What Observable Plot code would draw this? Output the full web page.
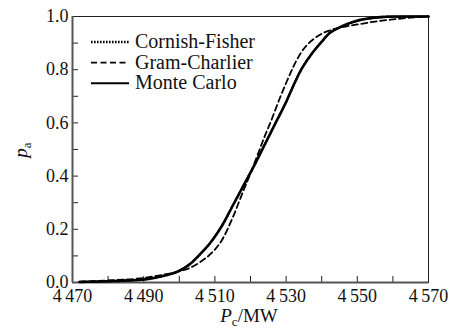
<!DOCTYPE html>
<html>
<head>
<meta charset="utf-8">
<script src="https://cdn.jsdelivr.net/npm/d3@7"></script>
<script src="https://cdn.jsdelivr.net/npm/@observablehq/plot@0.6"></script>
<style>
  body { margin: 0; background: #fff; }
  #chart svg { display: block; }
  #chart svg text { font-family: 'Liberation Serif', 'Times New Roman', serif !important; }
  #chart svg [aria-label$="tick label"] { font-size: 18px !important; }
</style>
</head>
<body>
<div id="chart"></div>
<script>
// Data
const seriesNames = ["Cornish-Fisher", "Gram-Charlier", "Monte Carlo"];

const mcP  = [4472, 4480, 4490, 4495, 4500, 4503, 4506, 4509, 4512, 4515, 4518, 4521, 4524, 4527, 4530, 4532, 4534, 4537, 4540, 4542, 4545, 4548, 4551, 4555, 4560, 4565, 4570];
const mcV  = [0.002, 0.005, 0.012, 0.024, 0.045, 0.07, 0.11, 0.155, 0.215, 0.29, 0.365, 0.44, 0.52, 0.6, 0.68, 0.74, 0.795, 0.857, 0.905, 0.935, 0.958, 0.975, 0.987, 0.995, 0.999, 1.0, 1.0];

const cfP  = [4472, 4480, 4490, 4495, 4500, 4503, 4506, 4509, 4512, 4515, 4518, 4521, 4524, 4527, 4530, 4532, 4534, 4537, 4540, 4542, 4545, 4548, 4551, 4555, 4560, 4565, 4570];
const cfV  = [0.002, 0.005, 0.011, 0.023, 0.044, 0.069, 0.108, 0.154, 0.213, 0.288, 0.363, 0.438, 0.518, 0.598, 0.678, 0.738, 0.794, 0.856, 0.905, 0.935, 0.959, 0.976, 0.988, 0.996, 1.0, 1.0, 1.0];

const gcP  = [4472, 4480, 4490, 4495, 4500, 4503, 4506, 4509, 4512, 4515, 4518, 4520, 4522, 4524, 4526, 4528, 4530, 4532, 4534, 4536, 4538, 4540, 4543, 4547, 4550, 4555, 4560, 4565, 4570];
const gcV  = [0.003, 0.008, 0.017, 0.028, 0.042, 0.055, 0.078, 0.11, 0.16, 0.244, 0.345, 0.41, 0.48, 0.55, 0.615, 0.685, 0.75, 0.81, 0.86, 0.895, 0.918, 0.935, 0.951, 0.963, 0.97, 0.981, 0.989, 0.996, 1.0];

const xTickLabels = [4470, 4490, 4510, 4530, 4550, 4570];
const xMinorTicks = [4480, 4500, 4520, 4540, 4560];
const yTickLabels = [0, 0.2, 0.4, 0.6, 0.8, 1.0];
const yMinorTicks = [0.1, 0.3, 0.5, 0.7, 0.9];

const toRows = (P, V) => P.map((p, i) => ({x: p, y: V[i]}));
const mc = toRows(mcP, mcV);
const cf = toRows(cfP, cfV);
const gc = toRows(gcP, gcV);

const fmtX = d => { const s = String(d); return s[0] + "\u2009" + s.slice(1); };
const font = "'Liberation Serif', 'Times New Roman', serif";

const plot = Plot.plot({
  width: 454,
  height: 331,
  marginLeft: 72,
  marginRight: 26,
  marginTop: 16,
  marginBottom: 49,
  style: {fontFamily: font, fontSize: "18px", color: "#111", background: "#fff"},
  x: {domain: [4470, 4570]},
  y: {domain: [0, 1]},
  marks: [
    Plot.frame({stroke: "#222", strokeWidth: 1}),
    Plot.axisX(xTickLabels, {tickSize: -6, tickFormat: fmtX, tickPadding: 13, label: null, stroke: "#222", fontSize: 18}),
    Plot.axisX(xMinorTicks, {tickSize: -6, tickFormat: () => "", label: null, stroke: "#222"}),
    Plot.axisY(yTickLabels, {tickSize: -6, tickFormat: d3.format(".1f"), tickPadding: 10, label: null, stroke: "#222", fontSize: 18}),
    Plot.axisY(yMinorTicks, {tickSize: -6, tickFormat: () => "", label: null, stroke: "#222"}),
    Plot.ruleY([0], {stroke: "#555", strokeWidth: 2}),
    Plot.ruleX([4470], {stroke: "#555", strokeWidth: 2}),
    Plot.line(mc, {x: "x", y: "y", stroke: "#000", strokeWidth: 2, curve: "monotone-x"}),
    Plot.line(gc, {x: "x", y: "y", stroke: "#000", strokeWidth: 1.8, strokeDasharray: "6,3.5", curve: "monotone-x"}),
    Plot.line(cf, {x: "x", y: "y", stroke: "#000", strokeWidth: 2.6, strokeDasharray: "1.6,1.4", curve: "monotone-x"})
  ]
});

const svg = d3.select(plot);

// Legend
const legendRows = [
  {name: seriesNames[0], dash: "1.6,1.4", w: 2.6},
  {name: seriesNames[1], dash: "6,3.5", w: 1.8},
  {name: seriesNames[2], dash: null, w: 2}
];
const lg = svg.append("g").attr("text-anchor", "start");
legendRows.forEach((r, i) => {
  const y = 42 + i * 20.6;
  lg.append("line").attr("x1", 91).attr("x2", 129).attr("y1", y).attr("y2", y)
    .attr("stroke", "#000").attr("stroke-width", r.w)
    .attr("stroke-dasharray", r.dash);
  lg.append("text").attr("x", 135).attr("y", y + 6).attr("font-size", 20)
    .attr("text-anchor", "start")
    .attr("font-family", font).attr("fill", "#111").text(r.name);
});

// Axis titles
const xt = svg.append("text").attr("x", 249).attr("y", 322).attr("text-anchor", "middle")
  .attr("font-family", font).attr("font-size", 19).attr("fill", "#111");
xt.append("tspan").attr("font-style", "italic").text("P");
xt.append("tspan").attr("font-size", 13).attr("dy", 4).text("c");
xt.append("tspan").attr("dy", -4).text("/MW");

const yt = svg.append("text").attr("transform", "translate(27,150) rotate(-90)")
  .attr("text-anchor", "middle").attr("font-family", font).attr("font-size", 19).attr("fill", "#111");
yt.append("tspan").attr("font-style", "italic").text("p");
yt.append("tspan").attr("font-size", 13).attr("dy", 4).text("a");

document.getElementById("chart").appendChild(plot);
</script>
</body>
</html>
